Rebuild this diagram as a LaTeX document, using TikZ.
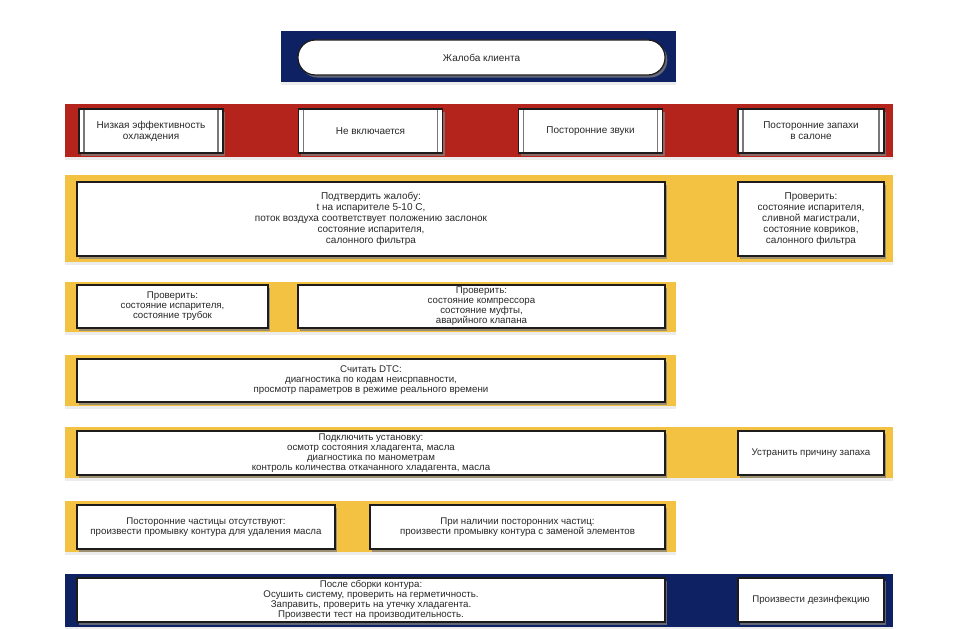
\documentclass[tikz,border=0pt]{standalone}
\usepackage{fontspec}
\setmainfont{Liberation Sans}
\usetikzlibrary{shadows}
\definecolor{bandnavy}{RGB}{14,33,98}
\definecolor{bandred}{RGB}{180,36,28}
\definecolor{bandyel}{RGB}{243,194,66}
\definecolor{boxline}{RGB}{30,28,26}
\definecolor{procline}{RGB}{120,120,120}
\definecolor{txt}{RGB}{40,40,40}

\begin{document}
\begin{tikzpicture}[
  x=0.025cm, y=-0.025cm,
  box/.style={draw=boxline, fill=white, line width=0.9pt, align=center,
              text=txt, font=\fontsize{7.1}{7.8}\selectfont, inner sep=0.5pt,
              minimum height=1.1cm,
              drop shadow={shadow xshift=1.6pt, shadow yshift=-1.8pt, opacity=0.75}},
  tight/.style={font=\fontsize{6.9}{7.05}\selectfont},
  proc/.style={box, minimum width=3.6cm,
              path picture={
                \draw[procline, line width=0.9pt]
                  ([xshift=3.6pt]path picture bounding box.north west) --
                  ([xshift=3.6pt]path picture bounding box.south west)
                  ([xshift=-3.6pt]path picture bounding box.north east) --
                  ([xshift=-3.6pt]path picture bounding box.south east);}},
  wide/.style={box, minimum width=14.7cm},
  side/.style={box, minimum width=3.65cm},
  band/.style={drop shadow={shadow xshift=0pt, shadow yshift=-2pt, opacity=0.15}}
]
\useasboundingbox (0,0) rectangle (971,629);

% bands
\fill[bandnavy, band] (281,31) rectangle (676,82);
\fill[bandred, band] (65,104) rectangle (893,157);
\fill[bandyel, band] (65,175) rectangle (893,262);
\fill[bandyel, band] (65,282) rectangle (676,332);
\fill[bandyel, band] (65,355) rectangle (676,406);
\fill[bandyel, band] (65,427) rectangle (893,478);
\fill[bandyel, band] (65,501) rectangle (676,552);
\fill[bandnavy, band] (65,574) rectangle (893,627);

% complaint
\node[box, rounded corners=0.43cm, minimum width=9.175cm, minimum height=0.875cm]
  (zh) at (481.5,57.5) {Жалоба клиента};

% row 1
\node[proc] (r1) at (151,131) {Низкая эффективность\\ охлаждения};
\node[proc] (r2) at (370.5,131) {Не включается};
\node[proc] (r3) at (590.5,131) {Посторонние звуки};
\node[proc, minimum width=3.65cm] (r4) at (811,131) {Посторонние запахи\\ в салоне};

% row 2
\node[wide, minimum height=1.85cm] (p1) at (371,219)
  {Подтвердить жалобу:\\ t на испарителе 5-10 С,\\
   поток воздуха соответствует положению заслонок\\
   состояние испарителя,\\ салонного фильтра};
\node[side, minimum height=1.85cm] (p2) at (811,219)
  {Проверить:\\ состояние испарителя,\\ сливной магистрали,\\
   состояние ковриков,\\ салонного фильтра};

% row 3
\node[box, tight, minimum width=4.775cm, minimum height=1.075cm] (k1) at (172.5,306.5)
  {Проверить:\\ состояние испарителя,\\ состояние трубок};
\node[box, tight, minimum width=9.175cm, minimum height=1.075cm] (k2) at (481.5,306.5)
  {Проверить:\\ состояние компрессора\\ состояние муфты,\\ аварийного клапана};

% row 4
\node[wide, tight, minimum height=1.075cm] (d1) at (371,380.5)
  {Считать DTC:\\ диагностика по кодам неисрпавности,\\
   просмотр параметров в режиме реального времени};

% row 5
\node[wide, tight] (u1) at (371,453)
  {Подключить установку:\\ осмотр состояния хладагента, масла\\
   диагностика по манометрам\\ контроль количества откачанного хладагента, масла};
\node[side, tight] (u2) at (811,453) {Устранить причину запаха};

% row 6
\node[box, tight, minimum width=6.45cm] (m1) at (206,527)
  {Посторонние частицы отсутствуют:\\ произвести промывку контура для удаления масла};
\node[box, tight, minimum width=7.375cm] (m2) at (517.5,527)
  {При наличии посторонних частиц:\\ произвести промывку контура с заменой элементов};

% row 7
\node[wide, tight] (s1) at (371,600)
  {После сборки контура:\\ Осушить систему, проверить на герметичность.\\
   Заправить, проверить на утечку хладагента.\\
   Произвести тест на производительность.};
\node[side, tight] (s2) at (811,600) {Произвести дезинфекцию};
\end{tikzpicture}
\end{document}
